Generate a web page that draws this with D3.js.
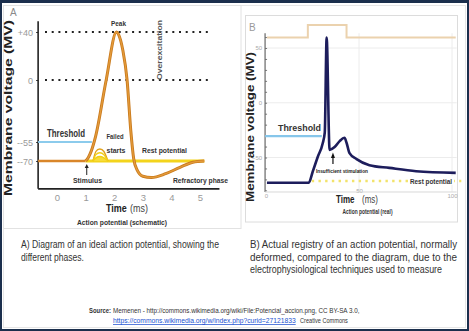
<!DOCTYPE html>
<html><head><meta charset="utf-8">
<script src="https://cdn.jsdelivr.net/npm/d3@7"></script>
<style>html,body{margin:0;padding:0;background:#fff;overflow:hidden}svg{display:block}</style>
</head><body><svg id="c" width="469" height="331"></svg>
<script>
// ---------- DATA ----------
// Panel A: schematic action potential (time in ms, voltage in mV)
const schematicTime = [1.0, 1.1, 1.2, 1.35, 1.72, 2.08, 2.15, 2.3, 2.45, 2.58, 2.68, 2.8, 3.0, 3.3, 3.8, 4.3, 4.75, 5.15];
const schematicVolt = [-70, -67, -62, -50, 0, 40, 38, 25, 0, -45, -68, -77, -82, -83, -80, -75, -71, -70];
const preStimTime = [-0.66, 1.0];
const preStimVolt = [-70, -70];
const restTimeA = [1.0, 5.15];
const restVoltA = [-70, -70];
const thresholdTimeA = [-0.66, 1.22];
const thresholdVoltA = [-55, -55];
const failedStartTime = [1.26, 1.36, 1.5, 1.64, 1.78];
const failedStart1 = [-70, -62.5, -60.5, -62.5, -70];
const failedStart2 = [-70, -65, -63.5, -65, -70];
const failedStart3 = [-70, -67.5, -66.5, -67.5, -70];
const dottedLevelsA = [40, 0];
const xTicksA = [0, 1, 2, 3, 4, 5];
const yTicksA = [40, 0, -55, -70];
const yTickLabelsA = ["+40", "0", "--55", "--70"];

// Panel B: real recording
const realTime = [0.5, 23, 25.1, 27.8, 30.5, 31.6, 32.6, 34.2, 36.9, 39.6, 42.2, 43.3, 44.9, 48.7, 55.6, 66.3, 80.7, 102];
const realVolt = [-73, -73, -63, -49.5, -37, -27, 59.5, -43, -40.5, -35, -32, -36.5, -46, -51.5, -57, -59.5, -62.5, -64];
const stimTime = [0.5, 22.5, 22.5, 43.3, 43.3, 102];
const stimVolt = [59.5, 59.5, 71, 71, 59.5, 59.5];
const thresholdTimeB = [-0.5, 30];
const thresholdVoltB = [-30.5, -30.5];
const restTimeB = [24.6, 105];
const restVoltB = [-71.4, -71.4];
const xTicksB = [0, 50, 100];
const yTicksB = [50, 0, -50];
const yMinorB = [60, 50, 40, 30, 20, 10, 0, -10, -20, -30, -40, -50, -60, -70, -80];

// ---------- SETUP ----------
const FONT = "'Liberation Sans Narrow','Liberation Sans',Arial,sans-serif";
const svg = d3.select("#c");
svg.append("rect").attr("width", 469).attr("height", 331).attr("fill", "#1b2f4d");
svg.append("rect").attr("x", 2).attr("y", 3).attr("width", 465).attr("height", 326).attr("fill", "#fff");
svg.append("rect").attr("x", 3.5).attr("y", 5.5).attr("width", 462).attr("height", 322)
  .attr("fill", "none").attr("stroke", "#e6e6e6");
svg.append("rect").attr("x", 3.5).attr("y", 5.5).attr("width", 237.5).attr("height", 223)
  .attr("fill", "none").attr("stroke", "#e2e2e2");
svg.append("rect").attr("x", 245.5).attr("y", 15.5).attr("width", 212).attr("height", 206.5)
  .attr("fill", "none").attr("stroke", "#dcdcdc");

function label(g, x, y, text, o = {}) {
  const t = g.append("text")
    .attr("font-family", o.family || FONT)
    .attr("font-size", o.size || 8)
    .attr("font-weight", o.weight || "normal")
    .attr("fill", o.fill || "#333")
    .attr("text-anchor", o.anchor || "start");
  if (o.rotate) t.attr("transform", `translate(${x},${y}) rotate(${o.rotate})`);
  else t.attr("x", x).attr("y", y);
  if (o.len) t.attr("textLength", o.len).attr("lengthAdjust", "spacingAndGlyphs");
  t.text(text);
  return t;
}
// horizontally squeezed text (scale transform), fits `len` pixels starting at x
function squeezed(g, x, y, text, len, o = {}) {
  const t = g.append("text")
    .attr("font-family", FONT).attr("font-size", o.size || 7.5)
    .attr("font-weight", o.weight || "normal").attr("fill", o.fill || "#333")
    .attr("x", 0).attr("y", 0).text(text);
  if (o.underline) t.attr("text-decoration", "underline");
  const nat = t.node().getComputedTextLength();
  t.attr("transform", `translate(${x},${y}) scale(${len / nat},1)`);
  return t;
}

// ---------- PANEL A ----------
const gA = svg.append("g");
const xA = d3.scaleLinear().domain([0, 5]).range([57, 200]);
const yA = d3.scaleLinear().domain([-70, -55, 0, 40]).range([161, 142, 80, 32]);
const yLoA = -92, yHiA = 49, xLoA = -0.66, xHiA = 5.68;

dottedLevelsA.forEach(v => {
  gA.append("line").attr("x1", 45).attr("x2", 208).attr("y1", yA(v)).attr("y2", yA(v))
    .attr("stroke", "#222").attr("stroke-width", 2).attr("stroke-dasharray", "2,4.7");
});

const axA = gA.append("g").attr("transform", `translate(${xA(xLoA)},0)`)
  .call(d3.axisLeft(yA).tickValues(yTicksA).tickFormat((d, i) => yTickLabelsA[i]).tickSize(2).tickPadding(3));
axA.select(".domain").remove();
axA.selectAll(".tick line").attr("stroke", "#333");
axA.selectAll(".tick text").attr("font-family", FONT).attr("font-size", 9).attr("fill", "#999").attr("dy", "0.4em");
gA.append("line").attr("x1", xA(xLoA)).attr("x2", xA(xLoA)).attr("y1", yA(yHiA)).attr("y2", yA(yLoA))
  .attr("stroke", "#222").attr("stroke-width", 1.6);
const bxA = gA.append("g").attr("transform", `translate(0,${yA(yLoA)})`)
  .call(d3.axisBottom(xA).tickValues(xTicksA).tickFormat(d3.format("d")).tickSize(0).tickPadding(5));
bxA.select(".domain").remove();
bxA.selectAll(".tick text").attr("font-family", FONT).attr("font-size", 9.5).attr("fill", "#999");
gA.append("line").attr("x1", xA(xLoA)).attr("x2", xA(xHiA)).attr("y1", yA(yLoA)).attr("y2", yA(yLoA))
  .attr("stroke", "#222").attr("stroke-width", 1.6);

const lineA = d3.line().x(d => xA(d[0])).y(d => yA(d[1]));
const zip = (a, b) => a.map((v, i) => [v, b[i]]);

gA.append("path").attr("d", lineA(zip(thresholdTimeA, thresholdVoltA)))
  .attr("fill", "none").attr("stroke", "#8ccbec").attr("stroke-width", 2.2);
gA.append("path").attr("d", lineA(zip(preStimTime, preStimVolt)))
  .attr("fill", "none").attr("stroke", "#d9862a").attr("stroke-width", 2.4);
gA.append("path").attr("d", lineA(zip(restTimeA, restVoltA)))
  .attr("fill", "none").attr("stroke", "#f3d41c").attr("stroke-width", 3);
const arc = d3.line().x(d => xA(d[0])).y(d => yA(d[1])).curve(d3.curveCardinal);
[failedStart1, failedStart2, failedStart3].forEach((s, i) => {
  gA.append("path").attr("d", arc(zip(failedStartTime, s)))
    .attr("fill", i === 2 ? "#f7dc3a" : "none").attr("stroke", i === 0 ? "#e2a21c" : "#f1cf16")
    .attr("stroke-width", 1.4);
});
const apLine = d3.line().x(d => xA(d[0])).y(d => yA(d[1])).curve(d3.curveMonotoneX);
gA.append("path").attr("d", apLine(zip(schematicTime, schematicVolt)))
  .attr("fill", "none").attr("stroke", "#c97a1e").attr("stroke-width", 3).attr("stroke-linejoin", "round");
gA.append("path").attr("d", apLine(zip(schematicTime, schematicVolt)))
  .attr("fill", "none").attr("stroke", "#e49b3a").attr("stroke-width", 1.3).attr("stroke-linejoin", "round");

const sx = xA(1.04);
gA.append("line").attr("x1", sx).attr("x2", sx).attr("y1", 175).attr("y2", 167).attr("stroke", "#222").attr("stroke-width", 1);
gA.append("path").attr("d", `M${sx - 2},${168} L${sx},${164} L${sx + 2},${168} Z`).attr("fill", "#222");

label(gA, 10, 16, "A", { size: 10, fill: "#8a8a8a" });
label(gA, 12, 108, "Membrane voltage (MV)", { size: 11, weight: "bold", fill: "#222", anchor: "middle", rotate: -90, len: 176 });
label(gA, 118.5, 26, "Peak", { size: 7, weight: "bold", fill: "#333", anchor: "middle", len: 15 });
label(gA, 162, 50, "Overexcitation", { size: 6.5, weight: "bold", fill: "#555", anchor: "middle", rotate: -90, len: 60 });
label(gA, 47, 137, "Threshold", { size: 10, weight: "bold", fill: "#333", len: 38 });
label(gA, 115, 139, "Failed", { size: 8, weight: "bold", fill: "#333", anchor: "middle", len: 17 });
label(gA, 116, 153, "starts", { size: 8, weight: "bold", fill: "#333", anchor: "middle", len: 19 });
label(gA, 142, 153, "Rest potential", { size: 8, weight: "bold", fill: "#333", len: 45 });
label(gA, 173, 183, "Refractory phase", { size: 8, weight: "bold", fill: "#333", len: 55 });
label(gA, 73, 183, "Stimulus", { size: 8, weight: "bold", fill: "#333", len: 29 });
const tA = label(gA, 106, 212, "", { size: 11, fill: "#222" });
tA.append("tspan").attr("font-weight", "bold").text("Time");
tA.append("tspan").attr("dx", 4).attr("fill", "#444").text("(ms)");
tA.attr("textLength", 42).attr("lengthAdjust", "spacingAndGlyphs");
label(gA, 122, 225, "Action potential  (schematic)", { size: 7.5, weight: "bold", fill: "#333", anchor: "middle", len: 90 });

// ---------- PANEL B ----------
const gB = svg.append("g");
const xB = d3.scaleLinear().domain([0, 100]).range([266, 452]);
const yB = d3.scaleLinear().domain([-50, 50]).range([157.5, 48]);
const yLoB = -81.5, yHiB = 63.5, xLoB = -0.5, xHiB = 102.5;

yTicksB.forEach(v => gB.append("line").attr("x1", xB(xLoB)).attr("x2", xB(xHiB)).attr("y1", yB(v)).attr("y2", yB(v))
  .attr("stroke", "#ececec").attr("stroke-width", 1));
[50, 100].forEach(v => gB.append("line").attr("x1", xB(v)).attr("x2", xB(v)).attr("y1", yB(yHiB)).attr("y2", yB(yLoB))
  .attr("stroke", "#ececec").attr("stroke-width", 1));

const ayB = gB.append("g").attr("transform", `translate(${xB(xLoB)},0)`)
  .call(d3.axisLeft(yB).tickValues(yTicksB).tickSize(0).tickPadding(3));
ayB.select(".domain").remove();
ayB.selectAll(".tick text").attr("font-family", FONT).attr("font-size", 6).attr("fill", "#aaa");
const minorB = gB.append("g").attr("transform", `translate(${xB(xLoB)},0)`)
  .call(d3.axisRight(yB).tickValues(yMinorB).tickSize(2).tickFormat(""));
minorB.select(".domain").remove();
minorB.selectAll(".tick line").attr("stroke", "#777");
gB.append("line").attr("x1", xB(xLoB)).attr("x2", xB(xLoB)).attr("y1", yB(yHiB)).attr("y2", yB(yLoB))
  .attr("stroke", "#666").attr("stroke-width", 1.2);
const axB = gB.append("g").attr("transform", `translate(0,${yB(yLoB)})`)
  .call(d3.axisBottom(xB).tickValues(xTicksB).tickSize(0).tickPadding(2));
axB.select(".domain").remove();
axB.selectAll(".tick text").attr("font-family", FONT).attr("font-size", 6).attr("fill", "#aaa");
axB.selectAll(".tick").filter(d => d === 50).select("text").attr("dy", "-0.1em");
gB.append("line").attr("x1", xB(xLoB)).attr("x2", xB(xHiB)).attr("y1", yB(yLoB)).attr("y2", yB(yLoB))
  .attr("stroke", "#d8d8d8").attr("stroke-width", 1);

const lineB = d3.line().x(d => xB(d[0])).y(d => yB(d[1]));
gB.append("path").attr("d", lineB(zip(stimTime, stimVolt)))
  .attr("fill", "none").attr("stroke", "#ebd2ae").attr("stroke-width", 2);
gB.append("path").attr("d", lineB(zip(thresholdTimeB, thresholdVoltB)))
  .attr("fill", "none").attr("stroke", "#86c6ea").attr("stroke-width", 2.4);
gB.append("path").attr("d", lineB(zip(restTimeB, restVoltB)))
  .attr("fill", "none").attr("stroke", "#f2e36a").attr("stroke-width", 2.4).attr("stroke-dasharray", "2.4,4.3");
const realLine = d3.line().x(d => xB(d[0])).y(d => yB(d[1])).curve(d3.curveMonotoneX);
gB.append("path").attr("d", realLine(zip(realTime, realVolt)))
  .attr("fill", "none").attr("stroke", "#1d1d5c").attr("stroke-width", 2.6).attr("stroke-linejoin", "round");

const ax = xB(36);
gB.append("line").attr("x1", ax).attr("x2", ax).attr("y1", 164).attr("y2", 157).attr("stroke", "#111").attr("stroke-width", 1.2);
gB.append("path").attr("d", `M${ax - 2},${158} L${ax},${152.5} L${ax + 2},${158} Z`).attr("fill", "#111");

label(gB, 249, 31, "B", { size: 10, fill: "#9a9a9a" });
label(gB, 254, 127, "Membrane voltage (MV)", { size: 10.5, weight: "bold", fill: "#222", anchor: "middle", rotate: -90, len: 150 });
label(gB, 278, 131, "Threshold", { size: 9, weight: "bold", fill: "#333", len: 43 });
label(gB, 316, 173, "Insufficient stimulation", { size: 5.5, weight: "bold", fill: "#222", len: 52 });
gB.append("rect").attr("x", 409).attr("y", 176).attr("width", 45).attr("height", 9).attr("fill", "#fff");
label(gB, 410, 184, "Rest potential", { size: 7.5, weight: "bold", fill: "#333", len: 42 });
const tB = label(gB, 336, 203, "", { size: 10.5, fill: "#222" });
tB.append("tspan").attr("font-weight", "bold").text("Time");
tB.append("tspan").attr("dx", 10).attr("fill", "#444").text("(ms)");
tB.attr("textLength", 42).attr("lengthAdjust", "spacingAndGlyphs");
label(gB, 367.5, 214, "Action potential (real)", { size: 7.5, weight: "bold", fill: "#333", anchor: "middle", len: 50 });

// ---------- CAPTIONS ----------
const gC = svg.append("g");
label(gC, 21, 248, "A) Diagram of an ideal action potential, showing the", { size: 10, fill: "#333", len: 198 });
label(gC, 21, 261, "different phases.", { size: 10, fill: "#333", len: 63 });
label(gC, 250, 248, "B) Actual registry of an action potential, normally", { size: 10, fill: "#333", len: 207 });
label(gC, 250, 261, "deformed, compared to the diagram, due to the", { size: 10, fill: "#333", len: 207 });
label(gC, 250, 273, "electrophysiological techniques used to measure", { size: 10, fill: "#333", len: 192 });

squeezed(gC, 89, 313, "Source:", 22, { weight: "bold" });
squeezed(gC, 113, 313, "Memenen - http://commons.wikimedia.org/wiki/File:Potencial_accion.png, CC BY-SA 3.0,", 247);
squeezed(gC, 113, 323, "https://commons.wikimedia.org/w/index.php?curid=27121833", 183, { fill: "#2050d0", underline: true });
squeezed(gC, 300, 323, "Creative Commons", 48);
</script></body></html>
